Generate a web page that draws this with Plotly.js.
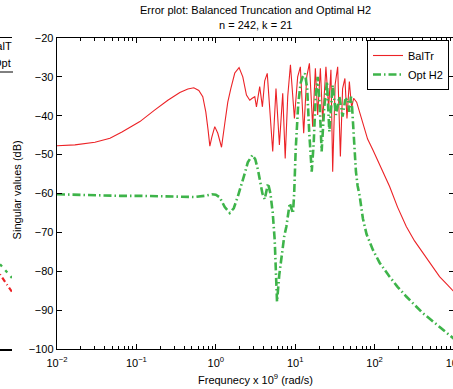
<!DOCTYPE html>
<html><head><meta charset="utf-8">
<script src="https://cdn.plot.ly/plotly-3.0.1.min.js"></script>
<style>html,body{margin:0;padding:0;overflow:hidden;background:#fff;width:453px;height:389px}#chart{width:456px;height:389px}</style>
</head><body><div id="chart"></div><script>
// Balanced truncation error (log10 of frequency x 1e9 rad/s, dB)
const balTrLogFreq = [-2.000,-1.774,-1.522,-1.333,-1.182,-0.956,-0.767,-0.604,-0.453,-0.352,-0.277,-0.214,-0.164,-0.126,-0.097,-0.075,-0.050,-0.013,0.025,0.072,0.113,0.151,0.189,0.239,0.293,0.340,0.386,0.428,0.459,0.491,0.512,0.553,0.587,0.616,0.648,0.717,0.758,0.801,0.843,0.874,0.906,0.940,0.990,1.031,1.065,1.107,1.145,1.179,1.220,1.254,1.283,1.317,1.346,1.387,1.421,1.450,1.472,1.503,1.535,1.569,1.597,1.626,1.652,1.682,1.711,1.736,1.774,1.836,1.912,1.979,2.063,2.189,2.289,2.399,2.503,2.608,2.717,2.818,2.918,3.000];
const balTrDb = [-47.7,-47.5,-46.8,-45.8,-44.2,-41.5,-38.5,-36.0,-34.0,-33.1,-32.8,-33.5,-35.1,-39.0,-43.7,-47.8,-45.5,-42.8,-44.5,-48.1,-42.0,-36.5,-33.0,-29.0,-27.6,-30.0,-34.7,-36.0,-35.5,-35.1,-37.7,-32.5,-37.7,-31.0,-29.1,-49.2,-33.0,-47.5,-34.2,-51.0,-35.0,-26.9,-40.7,-30.0,-27.4,-44.5,-30.0,-26.5,-42.8,-27.8,-39.8,-27.8,-41.5,-27.4,-38.0,-28.2,-54.4,-32.0,-27.4,-50.5,-33.0,-30.4,-40.7,-31.2,-38.0,-35.5,-36.5,-41.0,-46.0,-48.8,-52.5,-58.2,-63.5,-68.5,-72.2,-75.3,-78.5,-81.4,-83.5,-85.3];
// Optimal H2 error
const optH2LogFreq = [-2.000,-1.711,-1.459,-1.208,-0.956,-0.704,-0.453,-0.264,-0.138,-0.050,0.000,0.050,0.113,0.176,0.226,0.277,0.365,0.403,0.462,0.497,0.532,0.587,0.616,0.658,0.688,0.717,0.742,0.771,0.799,0.826,0.862,0.889,0.931,0.972,0.987,1.006,1.038,1.069,1.094,1.123,1.151,1.176,1.208,1.233,1.258,1.283,1.308,1.333,1.365,1.400,1.430,1.472,1.513,1.556,1.597,1.629,1.660,1.682,1.702,1.717,1.736,1.765,1.786,1.811,1.853,1.899,1.979,2.063,2.189,2.289,2.399,2.503,2.608,2.717,2.818,2.918,3.000];
const optH2Db = [-60.2,-60.4,-60.5,-60.6,-60.6,-60.7,-60.8,-60.9,-60.6,-60.2,-60.3,-61.0,-63.5,-65.0,-63.8,-60.8,-54.8,-52.0,-50.1,-51.2,-54.0,-60.0,-61.5,-57.4,-60.0,-65.0,-72.0,-87.8,-81.0,-76.3,-71.0,-68.5,-62.5,-65.1,-60.0,-48.8,-37.0,-31.5,-30.0,-29.1,-33.0,-44.0,-54.4,-47.0,-35.0,-30.0,-37.0,-49.2,-38.0,-31.2,-44.1,-32.1,-39.8,-35.1,-40.2,-36.0,-35.5,-39.0,-35.1,-38.0,-45.8,-54.4,-58.0,-60.5,-66.5,-70.5,-74.5,-77.8,-81.4,-84.0,-86.5,-88.7,-90.8,-92.6,-94.3,-96.0,-97.4];
// Tail of the neighbouring (cropped) panel at the left edge
const leftTailX = [0, 1];
const leftTailBalTrDb = [-80.8, -85.3];
const leftTailOptDb = [-78.2, -81.7];

const seriesNames = ["BalTr", "Opt H2"];
const xTickExponents = [-2, -1, 0, 1, 2, 3];
const xTickLabels = ["10<sup>−2</sup>", "10<sup>−1</sup>", "10<sup>0</sup>", "10<sup>1</sup>", "10<sup>2</sup>", "10<sup>3</sup>"];
const yTickValues = [-100, -90, -80, -70, -60, -50, -40, -30, -20];

const toFreq = a => a.map(v => Math.pow(10, v));
const minorVals = [];
for (let e = -2; e < 3; e++) for (let k = 2; k <= 9; k++) minorVals.push(k * Math.pow(10, e));

const RED = "rgb(236,34,38)", GREEN = "rgb(62,180,74)";
const FONT = "Liberation Sans, Arial, Helvetica, sans-serif";
const dashDot = "8px,3px,1.5px,3px";

const traces = [
  {x: toFreq(balTrLogFreq), y: balTrDb, name: seriesNames[0], type: "scatter", mode: "lines",
   line: {color: RED, width: 1.1}, xaxis: "x", yaxis: "y"},
  {x: toFreq(optH2LogFreq), y: optH2Db, name: seriesNames[1], type: "scatter", mode: "lines",
   line: {color: GREEN, width: 2.6, dash: dashDot}, xaxis: "x", yaxis: "y"},
  {x: leftTailX, y: leftTailOptDb, type: "scatter", mode: "lines", showlegend: false,
   line: {color: GREEN, width: 2.4, dash: "3px,5px"}, xaxis: "x2", yaxis: "y2"},
  {x: leftTailX, y: leftTailBalTrDb, type: "scatter", mode: "lines", showlegend: false,
   line: {color: RED, width: 2.2, dash: "1px,3px,5px,3px"}, xaxis: "x2", yaxis: "y2"}
];

const plotLeftFrac = 57 / 454;
const pyFromPx = px => (349 - px) / 311;

const layout = {
  width: 456, height: 389,
  margin: {l: 0, r: 2, t: 38, b: 40, pad: 0},
  paper_bgcolor: "#fff", plot_bgcolor: "#fff",
  font: {family: FONT, size: 11, color: "#000"},
  showlegend: true,
  xaxis: {
    type: "log", range: [-2, 3], domain: [plotLeftFrac, 1], anchor: "y",
    tickmode: "array", tickvals: toFreq(xTickExponents), ticktext: xTickLabels,
    ticks: "inside", ticklen: 5, tickwidth: 1, tickcolor: "#000", ticklabelstandoff: 3,
    ticklabeloverflow: "allow",
    minor: {tickmode: "array", tickvals: minorVals, ticks: "inside", ticklen: 3, tickwidth: 1, tickcolor: "#000", showgrid: false},
    showline: true, linecolor: "#000", linewidth: 1.3, mirror: "allticks",
    showgrid: false, zeroline: false, tickfont: {size: 11, color: "#000"}
  },
  yaxis: {
    range: [-100, -20], domain: [0, 1], anchor: "x",
    tickmode: "array", tickvals: yTickValues,
    ticks: "inside", ticklen: 5, tickwidth: 1, tickcolor: "#000",
    showline: true, linecolor: "#000", linewidth: 1.3, mirror: "allticks",
    showgrid: false, zeroline: false, tickfont: {size: 11, color: "#000"}
  },
  xaxis2: {range: [0, 1], domain: [0, 12 / 454], anchor: "y2", showline: true, linecolor: "#000",
    linewidth: 1.5, mirror: true, ticks: "", showticklabels: false, showgrid: false, zeroline: false},
  yaxis2: {range: [-100, -20], domain: [0, 1], anchor: "x2", showline: false, ticks: "",
    showticklabels: false, showgrid: false, zeroline: false},
  legend: {
    x: 367 / 454, y: pyFromPx(40), xanchor: "left", yanchor: "top",
    bgcolor: "#fff", bordercolor: "#000", borderwidth: 1,
    font: {family: FONT, size: 11, color: "#000"}, itemwidth: 30, tracegroupgap: 0
  },
  shapes: [
    {type: "line", xref: "paper", yref: "paper", x0: 0, x1: 13 / 454, y0: pyFromPx(72), y1: pyFromPx(72),
     line: {color: "#000", width: 1}}
  ],
  annotations: [
    {text: "Error plot: Balanced Truncation and Optimal H2", xref: "x domain", yref: "paper", x: 0.5, y: pyFromPx(10),
     xanchor: "center", yanchor: "middle", showarrow: false, font: {size: 11, color: "#000"}},
    {text: "n = 242, k = 21", xref: "x domain", yref: "paper", x: 0.5, y: pyFromPx(24.5),
     xanchor: "center", yanchor: "middle", showarrow: false, font: {size: 11, color: "#000"}},
    {text: "Singular values (dB)", xref: "paper", yref: "paper", x: 17 / 454, y: 0.51, textangle: -90,
     xanchor: "center", yanchor: "middle", showarrow: false, font: {size: 11, color: "#000"}},
    {text: "Frequnecy x 10<sup>9</sup> (rad/s)", xref: "x domain", yref: "paper", x: 0.5, y: pyFromPx(379),
     xanchor: "center", yanchor: "middle", showarrow: false, font: {size: 11, color: "#000"}},
    {text: "BalT", xref: "paper", yref: "paper", x: 14 / 454, y: pyFromPx(46),
     xanchor: "right", yanchor: "middle", showarrow: false, font: {size: 11, color: "#000"}},
    {text: "Opt", xref: "paper", yref: "paper", x: 13 / 454, y: pyFromPx(63),
     xanchor: "right", yanchor: "middle", showarrow: false, font: {size: 11, color: "#000"}}
  ]
};

Plotly.newPlot("chart", traces, layout, {staticPlot: true, displayModeBar: false});
</script></body></html>
